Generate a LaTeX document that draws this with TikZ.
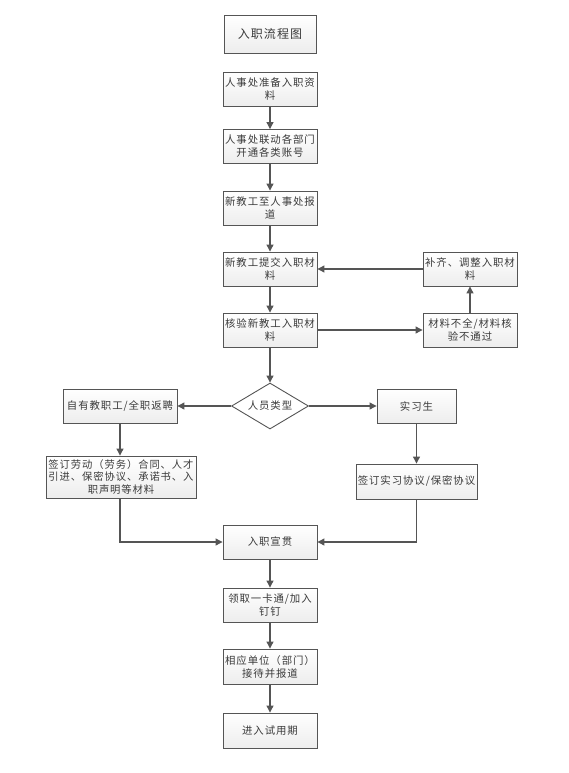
\documentclass[tikz,border=0pt]{standalone}
\usepackage{fontspec}
\setmainfont{Noto Sans CJK SC}[LetterSpace=9]
\usetikzlibrary{shapes.geometric,arrows.meta}
\definecolor{txt}{HTML}{3A3A3A}
\definecolor{edge}{HTML}{555555}
\tikzset{
  boxnode/.style={draw=edge, line width=0.9pt, top color=white, bottom color=gray!14,
    text=txt, font=\fontsize{10.4}{13}\selectfont, align=center, inner sep=0pt},
  link/.style={draw=edge, line width=1.1pt, -{Triangle[length=7pt,width=7pt]}},
}
\begin{document}
\begin{tikzpicture}[x=1pt,y=-1pt]
\useasboundingbox (0,0) rectangle (568,773);
\node[boxnode, minimum width=92pt, minimum height=38pt, font=\fontsize{12}{14}\selectfont] (title) at (270,34) {入职流程图};
\node[boxnode, minimum width=94pt, minimum height=34pt] (b1) at (270,89) {人事处准备入职资\\料};
\node[boxnode, minimum width=94pt, minimum height=34pt] (b2) at (270,146.5) {人事处联动各部门\\开通各类账号};
\node[boxnode, minimum width=94pt, minimum height=34pt] (b3) at (270,208) {新教工至人事处报\\道};
\node[boxnode, minimum width=94pt, minimum height=34pt] (b4) at (270,269) {新教工提交入职材\\料};
\node[boxnode, minimum width=94pt, minimum height=34pt] (b5) at (270,330) {核验新教工入职材\\料};
\node[boxnode, minimum width=94pt, minimum height=34pt] (ra) at (470,269) {补齐、调整入职材\\料};
\node[boxnode, minimum width=94pt, minimum height=34pt] (rb) at (470,330) {材料不全/材料核\\验不通过};
\node[diamond, draw=edge, line width=0.9pt, fill=white, text=txt, font=\fontsize{10.4}{12}\selectfont,
  minimum width=77pt, minimum height=46pt, inner sep=0pt, aspect=1.67] (dia) at (270,406) {人员类型};
\node[boxnode, minimum width=114pt, minimum height=34pt] (lt) at (120,406) {自有教职工/全职返聘};
\node[boxnode, minimum width=79pt, minimum height=34pt] (rt) at (416.5,406) {实习生};
\node[boxnode, minimum width=150pt, minimum height=42pt, font=\fontsize{10.3}{12.3}\selectfont] (lc) at (121,477) {签订劳动（劳务）合同、人才\\引进、保密协议、承诺书、入\\职声明等材料};
\node[boxnode, minimum width=121pt, minimum height=35pt] (rc) at (416.5,481.5) {签订实习协议/保密协议};
\node[boxnode, minimum width=94pt, minimum height=34pt] (c1) at (270,542) {入职宣贯};
\node[boxnode, minimum width=94pt, minimum height=34pt] (c2) at (270,605) {领取一卡通/加入\\钉钉};
\node[boxnode, minimum width=94pt, minimum height=35pt] (c3) at (270,666.5) {相应单位（部门）\\接待并报道};
\node[boxnode, minimum width=94pt, minimum height=35pt] (c4) at (270,730.5) {进入试用期};
\draw[link] (b1) -- (b2);
\draw[link] (b2) -- (b3);
\draw[link] (b3) -- (b4);
\draw[link] (b4) -- (b5);
\draw[link] (b5) -- (dia);
\draw[link] (b5) -- (rb);
\draw[link] (rb) -- (ra);
\draw[link] (ra) -- (b4);
\draw[link] (dia) -- (lt);
\draw[link] (dia) -- (rt);
\draw[link] (lt) -- (lt |- lc.north);
\draw[link] (rt) -- (rc);
\draw[link] (lc.south -| lt) |- (c1.west);
\draw[link] (rc.south) |- (c1.east);
\draw[link] (c1) -- (c2);
\draw[link] (c2) -- (c3);
\draw[link] (c3) -- (c4);
\end{tikzpicture}
\end{document}
